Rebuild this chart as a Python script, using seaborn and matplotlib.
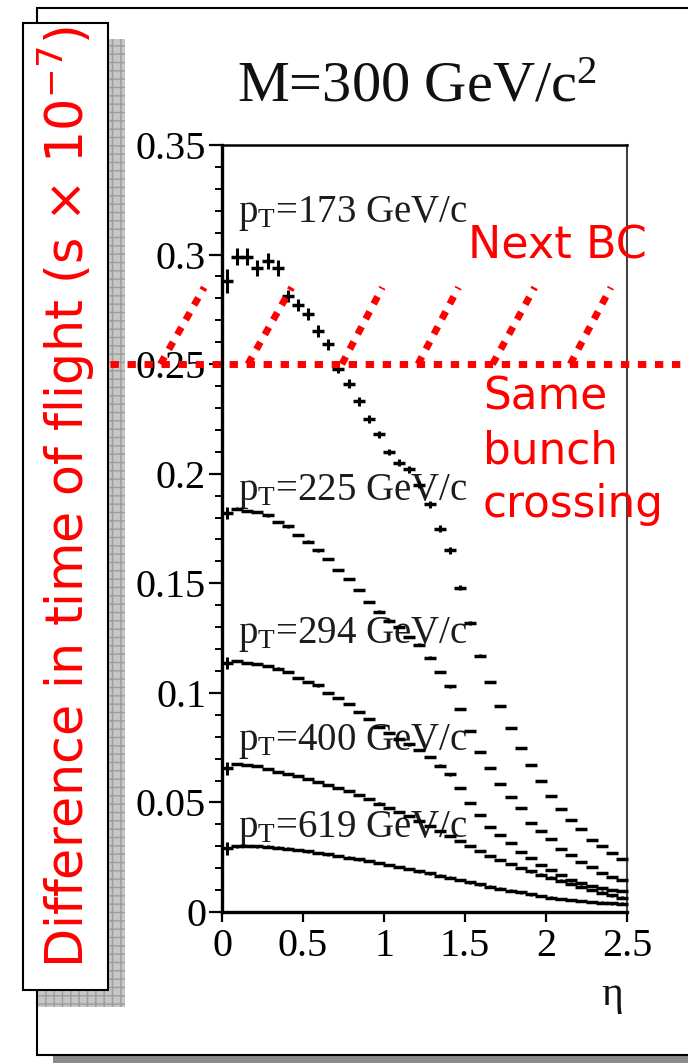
import numpy as np
import pandas as pd
import matplotlib
matplotlib.use("Agg")
import matplotlib.pyplot as plt
import seaborn as sns
from matplotlib.patches import Rectangle

# ---------------- data ----------------
eta = [0.031, 0.094, 0.156, 0.219, 0.281, 0.344, 0.406, 0.469, 0.531, 0.594,
       0.656, 0.719, 0.781, 0.844, 0.906, 0.969, 1.031, 1.094, 1.156, 1.219,
       1.281, 1.344, 1.406, 1.469, 1.531, 1.594, 1.656, 1.719, 1.781, 1.844,
       1.906, 1.969, 2.031, 2.094, 2.156, 2.219, 2.281, 2.344, 2.406, 2.469]

dt_173 = [0.288, 0.299, 0.299, 0.294, 0.297, 0.294, 0.281, 0.277, 0.273, 0.265,
          0.259, 0.248, 0.241, 0.233, 0.225, 0.218, 0.210, 0.205, 0.202, 0.195,
          0.186, 0.175, 0.165, 0.148, 0.132, 0.117, 0.105, 0.094, 0.084, 0.075,
          0.067, 0.060, 0.053, 0.047, 0.042, 0.038, 0.033, 0.030, 0.027, 0.024]
err_173 = [0.0055, 0.0038, 0.0038, 0.0036, 0.0036, 0.0036, 0.0028, 0.0028, 0.0027, 0.0027,
           0.0027, 0.0020, 0.0020, 0.0020, 0.0020, 0.0015, 0.0015, 0.0015, 0.0015, 0.0015,
           0.0015, 0.0015, 0.0015, 0.0012, 0.0010, 0.0008, 0.0006, 0.0005, 0.0005, 0.0005,
           0.0004, 0.0004, 0.0004, 0.0004, 0.0003, 0.0003, 0.0003, 0.0003, 0.0003, 0.0003]

dt_225 = [0.182, 0.184, 0.183, 0.1825, 0.181, 0.178, 0.176, 0.172, 0.169, 0.165,
          0.161, 0.156, 0.152, 0.147, 0.1415, 0.137, 0.133, 0.130, 0.1255, 0.122,
          0.116, 0.1095, 0.103, 0.0926, 0.0826, 0.073, 0.0657, 0.0584, 0.0525, 0.0475,
          0.0406, 0.037, 0.0333, 0.0287, 0.026, 0.0228, 0.0205, 0.0178, 0.016, 0.0146]

dt_294 = [0.1136, 0.1145, 0.1136, 0.1132, 0.1123, 0.111, 0.1095, 0.1068, 0.105, 0.1035,
          0.0999, 0.0977, 0.0949, 0.0913, 0.0881, 0.0844, 0.0817, 0.0790, 0.0765, 0.0740,
          0.0707, 0.0668, 0.0628, 0.0566, 0.0497, 0.0443, 0.0388, 0.0351, 0.0315, 0.0274,
          0.0246, 0.0214, 0.0192, 0.0169, 0.0146, 0.0132, 0.0118, 0.0108, 0.0100, 0.0095]

dt_400 = [0.0655, 0.0675, 0.0671, 0.0666, 0.0653, 0.0639, 0.063, 0.062, 0.0607, 0.0593,
          0.058, 0.0566, 0.0552, 0.0534, 0.0515, 0.0495, 0.0475, 0.0456, 0.0438, 0.0415,
          0.0392, 0.037, 0.0347, 0.0324, 0.0301, 0.0278, 0.0256, 0.0237, 0.0219, 0.0201,
          0.0186, 0.0171, 0.0157, 0.0143, 0.0129, 0.0115, 0.0101, 0.0088, 0.0076, 0.0066]

dt_619 = [0.0290, 0.0300, 0.0301, 0.0300, 0.0298, 0.0294, 0.0289, 0.0283, 0.0277, 0.0270,
          0.0263, 0.0256, 0.0248, 0.0240, 0.0232, 0.0223, 0.0214, 0.0205, 0.0196, 0.0186,
          0.0176, 0.0166, 0.0156, 0.0146, 0.0136, 0.0126, 0.0116, 0.0107, 0.0098, 0.0089,
          0.0081, 0.0073, 0.0066, 0.0060, 0.0055, 0.0050, 0.0046, 0.0043, 0.0040, 0.0038]

pt_labels = ["173", "225", "294", "400", "619"]
pt_label_y = [0.315, 0.188, 0.1228, 0.0739, 0.0342]

yticks = [0, 0.05, 0.1, 0.15, 0.2, 0.25, 0.3, 0.35]
ytick_labels = ["0", "0.05", "0.1", "0.15", "0.2", "0.25", "0.3", "0.35"]
xticks = [0, 0.5, 1, 1.5, 2, 2.5]
xtick_labels = ["0", "0.5", "1", "1.5", "2", "2.5"]

# red annotations (data coordinates)
same_bc_x = [-0.69, 2.90]
same_bc_y = [0.25, 0.25]
next_bc_x0 = [-0.38, 0.16, 0.74, 1.21, 1.67, 2.15]
next_bc_x1 = [-0.11, 0.43, 0.99, 1.46, 1.93, 2.40]
next_bc_y0 = 0.25
next_bc_y1 = 0.285

# ---------------- build table ----------------
series = {"173": dt_173, "225": dt_225, "294": dt_294, "400": dt_400, "619": dt_619}
rows = []
for name, vals in series.items():
    for i, (e, v) in enumerate(zip(eta, vals)):
        if name == "173":
            er = err_173[i]
        else:
            er = 0.0028 if i == 0 else 0.0006
        rows.append({"pt": name, "eta": e, "dt": v, "err": er})
df = pd.DataFrame(rows)

# ---------------- figure ----------------
sns.set_theme(style="ticks")
plt.rcParams["font.family"] = ["Liberation Serif", "DejaVu Serif"]
plt.rcParams["mathtext.fontset"] = "custom"
plt.rcParams["mathtext.rm"] = "Liberation Serif"
plt.rcParams["mathtext.it"] = "Liberation Serif:italic"
plt.rcParams["hatch.linewidth"] = 1.0

W, H = 688, 1063
fig = plt.figure(figsize=(W / 100, H / 100), dpi=100)
fig.patch.set_facecolor("white")


def fx(px):
    return px / W


def fy(py):
    return 1 - py / H


# outer slide frame + shadow
fig.patches.append(Rectangle((fx(53), fy(1063)), 1.0, 7 / H, transform=fig.transFigure,
                             facecolor="#8a8a8a", edgecolor="none", zorder=-3))
fig.patches.append(Rectangle((fx(37), fy(1055)), 1.0, (1055 - 8) / H, transform=fig.transFigure,
                             facecolor="white", edgecolor="black", lw=1.5, zorder=-2))
# label box shadow (grid pattern) + box
fig.patches.append(Rectangle((fx(38), fy(1007)), (125 - 38) / W, (1007 - 39) / H,
                             transform=fig.transFigure, facecolor="#c6c6c6",
                             edgecolor="#9c9c9c", hatch="++", lw=0, zorder=-1))
fig.patches.append(Rectangle((fx(23), fy(990)), (108 - 23) / W, (990 - 23) / H,
                             transform=fig.transFigure, facecolor="white",
                             edgecolor="black", lw=1.5, zorder=-0.5))

ax = fig.add_axes([fx(222), fy(912), (627 - 222) / W, (912 - 145) / H])
ax.set_facecolor("none")

sns.scatterplot(data=df, x="eta", y="dt", color="black", marker="_", s=70,
                linewidth=2.5, legend=False, ax=ax, zorder=3, clip_on=False)
ax.errorbar(df["eta"], df["dt"], yerr=df["err"], fmt="none", ecolor="black",
            elinewidth=2.2, capsize=0, zorder=3)

ax.set_xlim(0, 2.5)
ax.set_ylim(0, 0.35)
ax.set_xticks(xticks)
ax.set_xticklabels(xtick_labels)
ax.set_yticks(yticks)
ax.set_yticklabels(ytick_labels)
ax.set_yticks(np.arange(0, 0.3501, 0.01), minor=True)
ax.set_xlabel("")
ax.set_ylabel("")
ax.tick_params(axis="y", which="major", direction="out", length=9.5, width=1.6,
               labelsize=29, pad=2, color="black", labelcolor="black")
ax.tick_params(axis="y", which="minor", direction="out", length=5, width=1.4, color="black")
ax.tick_params(axis="x", which="major", direction="out", length=7.5, width=1.6,
               labelsize=29, pad=4, color="black", labelcolor="black")
ax.tick_params(axis="x", which="minor", bottom=False)
for side in ["left", "bottom"]:
    ax.spines[side].set_linewidth(2.4)
    ax.spines[side].set_color("black")
ax.spines["top"].set_linewidth(1.8)
ax.spines["top"].set_color("black")
ax.spines["right"].set_linewidth(1.5)
ax.spines["right"].set_color("#444444")

# pT labels
for lab, yb in zip(pt_labels, pt_label_y):
    ax.text(0.1, yb, r"p$_{\rm T}$=" + lab + " GeV/c", fontsize=28, color="#1c1c1c",
            va="baseline", ha="left", zorder=2)

# red annotations
red = "#ff0000"
ax.plot(same_bc_x, same_bc_y, color=red, lw=5, linestyle=(0, (1.2, 1.25)),
        solid_capstyle="butt", dash_capstyle="butt", clip_on=False, zorder=4)
for a, b in zip(next_bc_x0, next_bc_x1):
    ax.plot([a, b], [next_bc_y0, next_bc_y1], color=red, lw=5, linestyle=(0, (1.2, 1.25)),
            dash_capstyle="butt", clip_on=False, zorder=4)

fig.text(fx(468), fy(246), "Next BC", color=red, fontsize=32, family="DejaVu Sans",
         ha="left", va="center")
fig.text(fx(483), fy(376), "Same\nbunch\ncrossing", color=red, fontsize=31.5,
         family="DejaVu Sans", ha="left", va="top", linespacing=1.31)

fig.text(fx(66), fy(497), "Difference in time of flight (s × 10$^{-7}$)", color=red,
         fontsize=36.5, family="DejaVu Sans", math_fontfamily="dejavusans",
         rotation=90, ha="center", va="center")

# title and axis label
fig.text(fx(417), fy(88), "M=300 GeV/c$^{2}$", fontsize=42, ha="center", va="center",
         color="#111111")
fig.text(fx(612), fy(995), "η", fontsize=30, ha="center", va="center", color="#111111")

fig.savefig("out.png", dpi=100, facecolor="white")
